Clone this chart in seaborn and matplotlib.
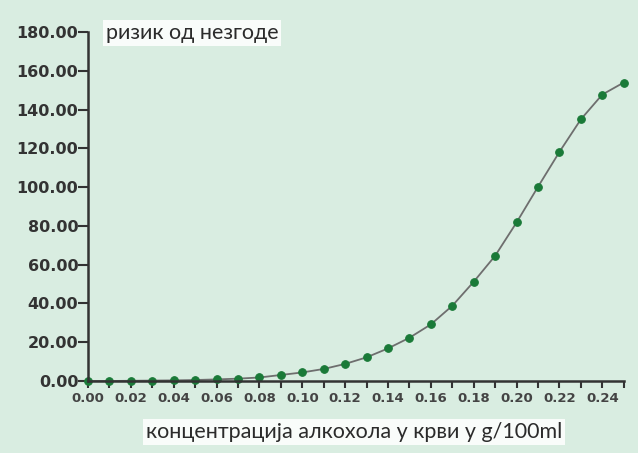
import matplotlib
matplotlib.use("Agg")
import matplotlib.pyplot as plt
import seaborn as sns
import numpy as np
import pandas as pd
from matplotlib.ticker import MultipleLocator, FormatStrFormatter

# blood alcohol concentration (g/100ml) and relative accident risk
concentration = [0.00, 0.01, 0.02, 0.03, 0.04, 0.05, 0.06, 0.07, 0.08, 0.09,
                 0.10, 0.11, 0.12, 0.13, 0.14, 0.15, 0.16, 0.17, 0.18, 0.19,
                 0.20, 0.21, 0.22, 0.23, 0.24, 0.25]
risk = [0.0, 0.0, 0.1, 0.2, 0.3, 0.5, 0.8, 1.2, 1.8, 3.1,
        4.4, 6.2, 8.8, 12.2, 16.8, 22.3, 29.2, 38.8, 51.2, 64.6,
        81.8, 100.2, 118.2, 135.0, 147.8, 154.0]

df = pd.DataFrame({"conc": concentration, "risk": risk})

bg = "#d9ede1"
sns.set_theme(style="white")
plt.rcParams['font.family'] = ['DejaVu Sans']

fig = plt.figure(figsize=(6.38, 4.53), dpi=100, facecolor=bg)
ax = fig.add_axes([0.138, 0.159, 0.8396, 0.770])
ax.set_facecolor(bg)

sns.lineplot(data=df, x="conc", y="risk", ax=ax, color="#6e6e6e", linewidth=1.3,
             marker="o", markersize=5.5, markerfacecolor="#1a7a38",
             markeredgecolor="#1a7a38", clip_on=False)

ax.set_xlim(0, 0.25)
ax.set_ylim(0, 180)
ax.xaxis.set_major_locator(MultipleLocator(0.02))
ax.xaxis.set_minor_locator(MultipleLocator(0.01))
ax.xaxis.set_major_formatter(FormatStrFormatter('%.2f'))
ax.yaxis.set_major_locator(MultipleLocator(20))
ax.yaxis.set_major_formatter(FormatStrFormatter('%.2f'))

for s in ["top", "right"]:
    ax.spines[s].set_visible(False)
for s in ["left", "bottom"]:
    ax.spines[s].set_color("#333333")
    ax.spines[s].set_linewidth(1.8)

ax.tick_params(axis="y", which="major", direction="out", length=7, width=1.5,
               color="#333333", labelsize=11.5, labelcolor="#333333", pad=0, left=True)
ax.tick_params(axis="x", which="both", direction="out", length=5, width=1.5,
               color="#333333", labelsize=9.5, labelcolor="#444444", pad=3, bottom=True)
for lbl in ax.get_yticklabels() + ax.get_xticklabels():
    lbl.set_fontfamily("DejaVu Sans")
    lbl.set_fontweight("bold")

ax.set_xlabel("")
ax.set_ylabel("")

box = dict(facecolor="white", edgecolor="none", pad=2, alpha=0.85)
fig.text(0.166, 0.927, "ризик од незгоде", fontsize=15.5, color="#2b2b2b",
         family=["Lato", "DejaVu Sans"], va="center", ha="left", bbox=box)
fig.text(0.555, 0.046, "концентрација алкохола у крви у g/100ml", fontsize=15.5,
         color="#2b2b2b", family=["Lato", "DejaVu Sans"], va="center", ha="center", bbox=box)

fig.savefig("out.png", dpi=100, facecolor=bg)
plt.close(fig)
